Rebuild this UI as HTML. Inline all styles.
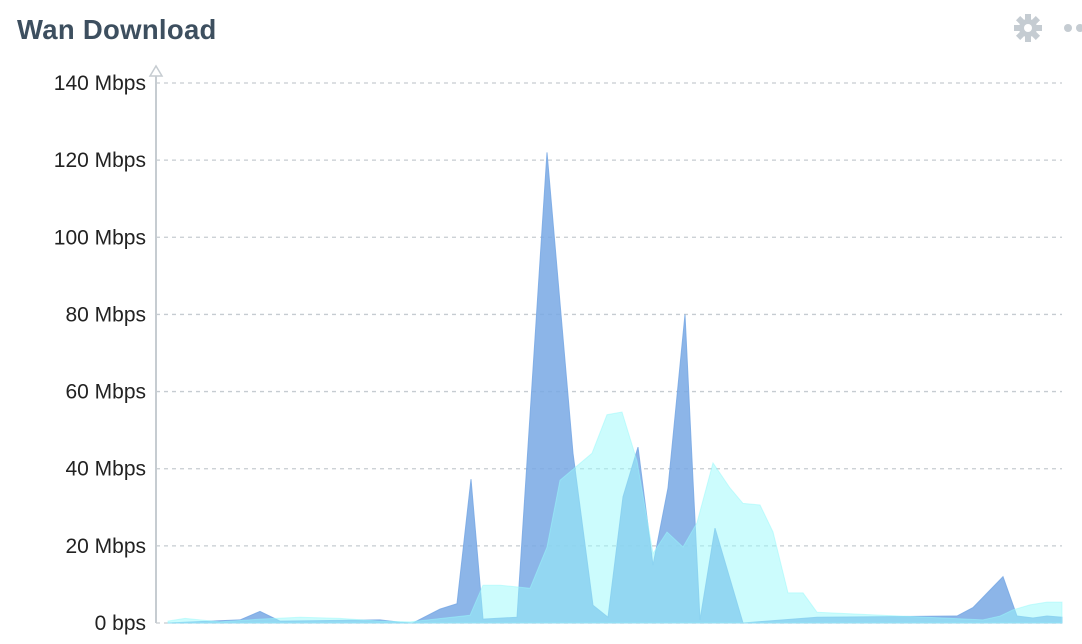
<!DOCTYPE html>
<html><head><meta charset="utf-8"><style>
body{margin:0;width:1082px;height:644px;background:#fff;overflow:hidden;font-family:"Liberation Sans",sans-serif}
#title{position:absolute;left:17px;top:14px;font-size:27.5px;font-weight:bold;color:#3d4f5f;margin:0;letter-spacing:0.3px}
svg{position:absolute;left:0;top:0}
</style></head><body>
<h1 id="title">Wan Download</h1>
<svg width="1082" height="644" id="chart">
<g transform="translate(1028,28)" fill="#c5ccd2">
<circle r="9"/>
<rect x="-3" y="-14" width="6" height="28"/><rect x="-14" y="-3" width="28" height="6"/>
<rect x="-3" y="-14" width="6" height="28" transform="rotate(45)"/><rect x="-3" y="-14" width="6" height="28" transform="rotate(-45)"/>
<circle r="4" fill="#fff"/></g>
<g fill="#c5ccd2"><circle cx="1068" cy="28" r="4"/><circle cx="1080" cy="28" r="4"/></g>
</svg>
<script>
const yTicks=[0,20,40,60,80,100,120,140];
const yTickLabels=["0 bps","20 Mbps","40 Mbps","60 Mbps","80 Mbps","100 Mbps","120 Mbps","140 Mbps"];
const downTimes=[1.2,5.4,8.4,10.4,12.4,22.4,24.4,25.7,28.4,30.1,31.5,32.7,36.1,39.1,41.7,43.7,45.2,46.7,48.2,49.7,51.2,52.9,53.7,54.4,55.9,58.7,66.1,80.1,81.7,84.7,86.1,87.7,89.1,90.6];
const downValues=[0,0.5,0.8,3,0.5,0.8,0.2,0,3.6,5,37.3,1,1.5,122,44,4.6,1.5,32.7,45.6,15,35,80,37,0.8,24.6,0,1.5,1.8,4,12,1.8,1.3,1.8,1.5];
const upTimes=[1.2,2.9,6.4,10.4,14.4,18.4,22.4,25.4,31.4,32.7,34.4,37.4,39.1,40.4,43.6,45.1,46.6,48.1,49.7,51.1,52.7,54.1,55.7,57.4,58.7,60.4,61.7,63.2,64.7,66.1,82.7,84.4,85.7,87.4,89.1,90.6];
const upValues=[0.5,1.2,0.3,1,1.5,1.2,0.5,0.3,2,9.8,9.8,9,19.7,37,44,54,54.7,42,18,23.6,19.7,26,41.5,35,31,30.6,23.6,7.8,7.8,2.8,0.8,1.8,3.4,4.7,5.4,5.4,5];
const svg=document.getElementById('chart');const NS='http://www.w3.org/2000/svg';
const X0=156,X1=1062,Y0=623,Y1=83;
const x=t=>X0+t/90.6*(X1-X0);const y=v=>Y0-v/140*(Y0-Y1);
function mk(tag,attrs){const e=document.createElementNS(NS,tag);for(const k in attrs)e.setAttribute(k,attrs[k]);svg.appendChild(e);return e;}
yTicks.forEach((v,i)=>{
 const g=mk('line',{x1:X0,x2:X1,y1:y(v),y2:y(v),stroke:'#c6ccd1','stroke-width':1.3,'stroke-dasharray':'4,4'});
 
 
 const t=mk('text',{x:146,y:y(v)+7,'text-anchor':'end','font-size':21,fill:'#222','font-family':'Liberation Sans, sans-serif'});
 t.textContent=yTickLabels[i];
 
 
});
function area(ts,vs,fill,name){
 let d='M'+x(ts[0])+','+Y0;ts.forEach((t,i)=>d+='L'+x(t)+','+y(vs[i]));d+='L'+x(ts[ts.length-1])+','+Y0+'Z';
 const p=mk('path',{d:d,fill:fill,stroke:fill,'stroke-width':1});
 
 
}
area(downTimes,downValues,'rgba(120,168,228,0.85)','download-area');
area(upTimes,upValues,'rgba(153,249,251,0.5)','upload-area');
const ax=mk('line',{x1:X0,x2:X0,y1:68,y2:Y0,stroke:'#c6ccd1','stroke-width':2});


const ar=mk('path',{d:'M150,76L156,66L162,76Z',fill:'#fff',stroke:'#c6ccd1','stroke-width':1.5});


</script>
</body></html>
